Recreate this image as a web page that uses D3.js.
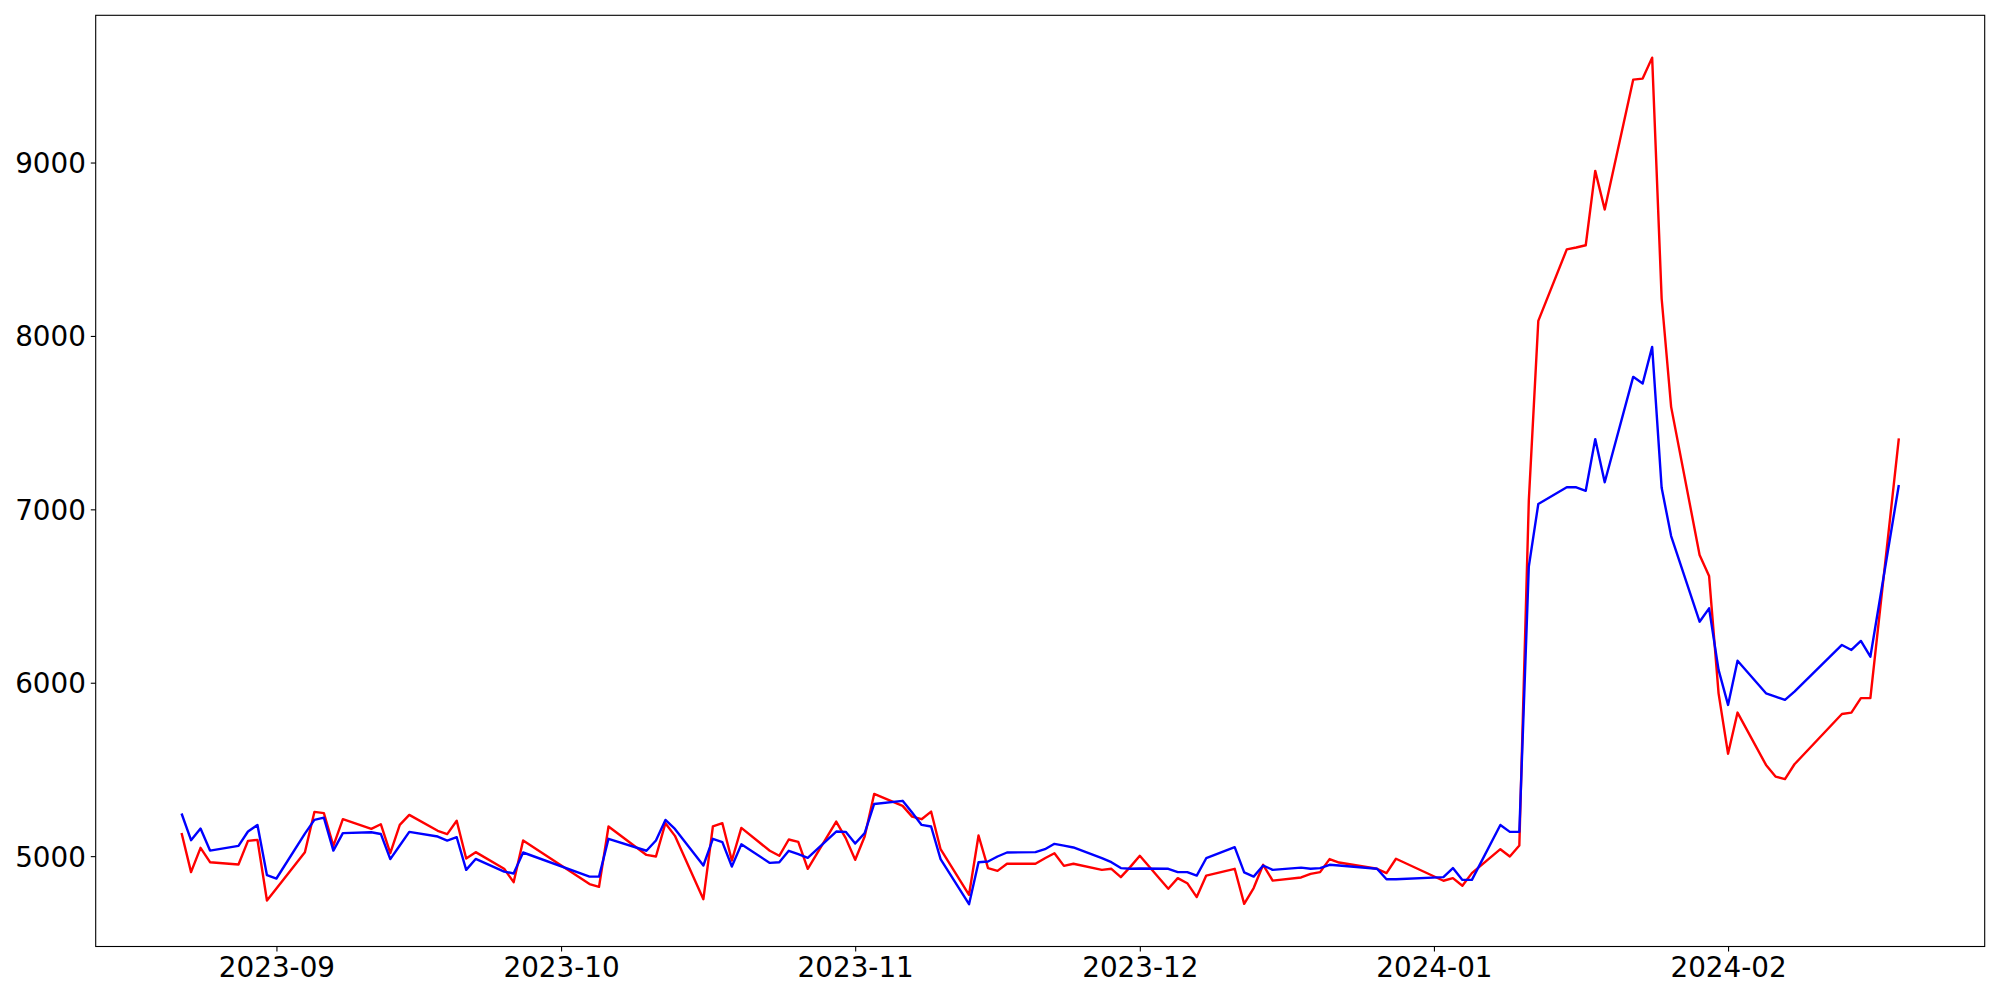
<!DOCTYPE html>
<html><head><meta charset="utf-8">
<script src="https://cdn.jsdelivr.net/npm/d3@7/dist/d3.min.js"></script>
<style>
body{margin:0;background:#fff;}
svg text{font-family:"DejaVu Sans",sans-serif;}
</style>
</head><body>
<svg id="chart" width="2000" height="1000"></svg>
<script>
const dates = [
"2023-08-22","2023-08-23","2023-08-24","2023-08-25","2023-08-28","2023-08-29","2023-08-30","2023-08-31",
"2023-09-01","2023-09-04","2023-09-05","2023-09-06","2023-09-07","2023-09-08","2023-09-11","2023-09-12",
"2023-09-13","2023-09-14","2023-09-15","2023-09-18","2023-09-19","2023-09-20","2023-09-21","2023-09-22",
"2023-09-25","2023-09-26","2023-09-27","2023-10-04","2023-10-05","2023-10-06","2023-10-10","2023-10-11",
"2023-10-12","2023-10-13","2023-10-16","2023-10-17","2023-10-18","2023-10-19","2023-10-20","2023-10-23",
"2023-10-24","2023-10-25","2023-10-26","2023-10-27","2023-10-30","2023-10-31","2023-11-01","2023-11-02",
"2023-11-03","2023-11-06","2023-11-07","2023-11-08","2023-11-09","2023-11-10","2023-11-13","2023-11-14",
"2023-11-15","2023-11-16","2023-11-17","2023-11-20","2023-11-21","2023-11-22","2023-11-23","2023-11-24",
"2023-11-27","2023-11-28","2023-11-29","2023-11-30","2023-12-01","2023-12-04","2023-12-05","2023-12-06",
"2023-12-07","2023-12-08","2023-12-11","2023-12-12","2023-12-13","2023-12-14","2023-12-15","2023-12-18",
"2023-12-19","2023-12-20","2023-12-21","2023-12-22","2023-12-26","2023-12-27","2023-12-28","2024-01-02",
"2024-01-03","2024-01-04","2024-01-05","2024-01-08","2024-01-09","2024-01-10","2024-01-11","2024-01-12",
"2024-01-15","2024-01-16","2024-01-17","2024-01-18","2024-01-19","2024-01-22","2024-01-23","2024-01-24",
"2024-01-25","2024-01-26","2024-01-29","2024-01-30","2024-01-31","2024-02-01","2024-02-02","2024-02-05",
"2024-02-06","2024-02-07","2024-02-08","2024-02-13","2024-02-14","2024-02-15","2024-02-16","2024-02-19"
];
const redValues = [
5133,4908,5048,4965,4952,5088,5094,4744,
4813,5023,5255,5248,5059,5213,5157,5184,
5017,5180,5238,5146,5127,5204,4986,5023,
4927,4850,5090,4839,4823,5171,5007,4998,
5190,5117,4752,5171,5190,4975,5163,5031,
5002,5096,5082,4927,5199,5104,4979,5113,
5359,5290,5228,5213,5257,5040,4777,5119,
4931,4915,4956,4956,4988,5017,4944,4956,
4921,4927,4879,4938,5002,4812,4873,4844,
4764,4888,4927,4725,4816,4950,4859,4877,
4898,4908,4983,4963,4927,4902,4985,4858,
4873,4829,4902,5040,4998,5061,7050,8087,
8499,8510,8523,8952,8729,9478,9484,9605,
8216,7591,6737,6616,5939,5590,5828,5526,
5459,5444,5530,5820,5828,5911,5911,7409
];
const blueValues = [
5246,5092,5159,5032,5059,5142,5180,4890,
4871,5130,5209,5222,5032,5133,5138,5128,
4983,5061,5140,5113,5090,5109,4921,4984,
4911,4900,5021,4882,4882,5100,5031,5090,
5209,5157,4946,5100,5081,4940,5068,4961,
4965,5031,5011,4990,5142,5140,5073,5133,
5301,5319,5251,5180,5171,4983,4723,4965,
4969,4998,5021,5023,5040,5071,5061,5050,
4988,4965,4931,4927,4929,4927,4908,4908,
4888,4988,5052,4906,4882,4946,4921,4934,
4927,4931,4950,4946,4927,4867,4867,4879,
4931,4863,4863,5180,5140,5140,6670,7031,
7127,7127,7107,7405,7156,7764,7726,7937,
7124,6846,6352,6429,6074,5872,6127,5939,
5920,5901,5949,6218,6189,6241,6150,7140
];
const yTickValues = [5000,6000,7000,8000,9000];
const xTickLabels = ["2023-09","2023-10","2023-11","2023-12","2024-01","2024-02"];

const W = 2000, H = 1000;
const M = {left:95.7, right:2000-1984.7, top:15.3, bottom:1000-946.5};
const parse = d3.timeParse("%Y-%m-%d");
const parseMonth = d3.timeParse("%Y-%m");
const xs = dates.map(parse);

const svg = d3.select("#chart");
const x0 = d3.min(xs), x1 = d3.max(xs);
const xpad = (x1 - x0) * 0.05;
const x = d3.scaleTime()
  .domain([new Date(+x0 - xpad), new Date(+x1 + xpad)])
  .range([M.left, W - M.right]);
const allV = redValues.concat(blueValues);
const vmin = d3.min(allV), vmax = d3.max(allV);
const ypad = (vmax - vmin) * 0.05;
const y = d3.scaleLinear()
  .domain([vmin - ypad, vmax + ypad])
  .range([H - M.bottom, M.top]);

const fs = "27.8px";
const tickLen = 4.9;

// y axis
const yAxis = svg.append("g")
  .attr("transform", `translate(${M.left},0)`)
  .call(d3.axisLeft(y).tickValues(yTickValues).tickSize(tickLen).tickPadding(4.9).tickFormat(d3.format("d")));
yAxis.select(".domain").remove();
yAxis.selectAll(".tick line").attr("stroke","#000").attr("stroke-width",1.1);
yAxis.selectAll(".tick text").attr("font-size", fs).attr("fill","#000")
  .attr("font-family","DejaVu Sans").attr("dy","0.36em");

// x axis
const xAxis = svg.append("g")
  .attr("transform", `translate(0,${H - M.bottom})`)
  .call(d3.axisBottom(x).tickValues(xTickLabels.map(parseMonth)).tickSize(tickLen).tickPadding(4.9)
    .tickFormat(d3.timeFormat("%Y-%m")));
xAxis.select(".domain").remove();
xAxis.selectAll(".tick line").attr("stroke","#000").attr("stroke-width",1.1);
xAxis.selectAll(".tick text").attr("font-size", fs).attr("fill","#000")
  .attr("font-family","DejaVu Sans").attr("dy","0.76em");

// lines
const line = d3.line().x((d,i)=>x(xs[i])).y(d=>y(d));
svg.append("path").datum(redValues).attr("d", line)
  .attr("fill","none").attr("stroke","#ff0000").attr("stroke-width",2.4).attr("stroke-linejoin","round");
svg.append("path").datum(blueValues).attr("d", line)
  .attr("fill","none").attr("stroke","#0000ff").attr("stroke-width",2.4).attr("stroke-linejoin","round");

// frame
svg.append("rect")
  .attr("x", M.left).attr("y", M.top)
  .attr("width", W - M.right - M.left).attr("height", H - M.bottom - M.top)
  .attr("fill","none").attr("stroke","#000").attr("stroke-width",1.1);
</script>
</body></html>
